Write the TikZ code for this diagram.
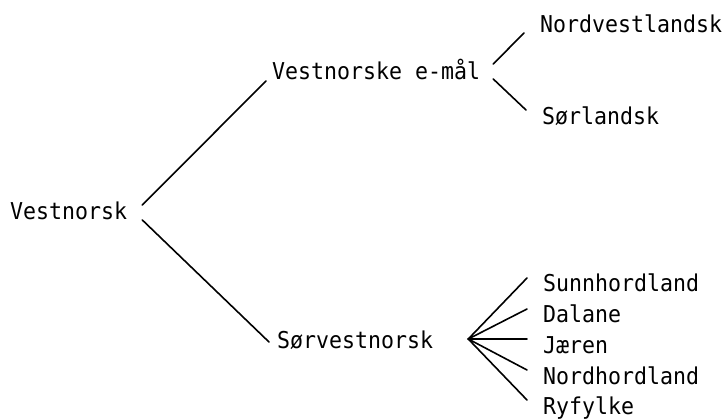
\documentclass[tikz,border=0pt]{standalone}
\usepackage{fontspec}
\setmonofont[FakeStretch=0.93]{DejaVu Sans Mono}
\usetikzlibrary{calc}
\begin{document}
\begin{tikzpicture}[x=1pt,y=-1pt,
  dialect/.style={font=\ttfamily\fontsize{23.2}{28}\selectfont, inner sep=0pt, anchor=base west},
  branch/.style={line width=1.6pt, line cap=round}]
\useasboundingbox (0,0) rectangle (722,419);

% dialect names
\node[dialect] (root)     at (10,220)  {Vestnorsk};
\node[dialect] (emal)     at (272,80)  {Vestnorske e-mål};
\node[dialect] (nordvest) at (540,33)  {Nordvestlandsk};
\node[dialect] (sorland)  at (542,125) {Sørlandsk};
\node[dialect] (sorvest)  at (277,348) {Sørvestnorsk};
\node[dialect] (sunn)     at (543,292) {Sunnhordland};
\node[dialect] (dalane)   at (543,323) {Dalane};
\node[dialect] (jaeren)   at (543,353) {Jæren};
\node[dialect] (nordh)    at (543,384) {Nordhordland};
\node[dialect] (ryfylke)  at (543,414) {Ryfylke};

% main split
\draw[branch] ($(root.base east)+(15,-15)$) -- ($(emal.base west)+(-6,1)$);
\draw[branch] ($(root.base east)+(15,0)$) -- ($(sorvest.base west)+(-8,-6)$);

% e-mål split
\draw[branch] ($(emal.base east)+(13,-16)$) -- ($(nordvest.base west)+(-16,0)$);
\draw[branch] ($(emal.base east)+(13,-1)$) -- ($(sorland.base west)+(-16,-15)$);

% fan of south-west dialects
\coordinate (fan) at ($(sorvest.base east)+(35,-9)$);
\foreach \child in {sunn,dalane,jaeren,nordh,ryfylke}
  \draw[branch] (fan) -- ($(\child.base west)+(-16,-14)$);
\end{tikzpicture}
\end{document}
